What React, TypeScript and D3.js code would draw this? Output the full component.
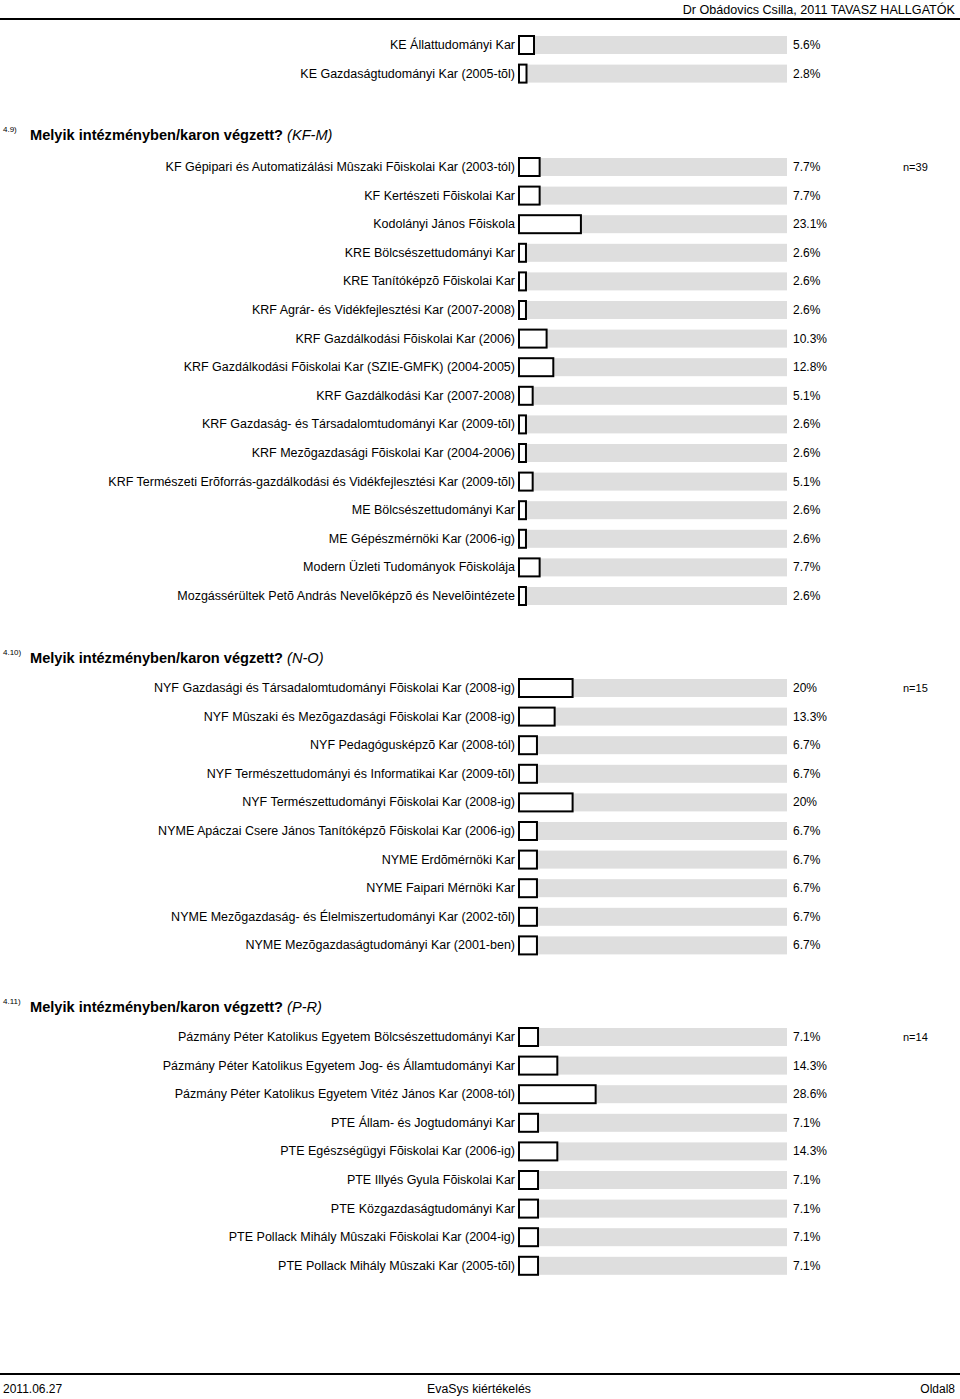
import React from "react";
import * as d3 from "d3";

const topLabels = ["KE Állattudományi Kar", "KE Gazdaságtudományi Kar (2005-tõl)"];
const topValues = [5.6, 2.8];

const s9Labels = [
  "KF Gépipari és Automatizálási Mûszaki Fõiskolai Kar (2003-tól)",
  "KF Kertészeti Fõiskolai Kar",
  "Kodolányi János Fõiskola",
  "KRE Bölcsészettudományi Kar",
  "KRE Tanítóképzõ Fõiskolai Kar",
  "KRF Agrár- és Vidékfejlesztési Kar (2007-2008)",
  "KRF Gazdálkodási Fõiskolai Kar (2006)",
  "KRF Gazdálkodási Fõiskolai Kar (SZIE-GMFK) (2004-2005)",
  "KRF Gazdálkodási Kar (2007-2008)",
  "KRF Gazdaság- és Társadalomtudományi Kar (2009-tõl)",
  "KRF Mezõgazdasági Fõiskolai Kar (2004-2006)",
  "KRF Természeti Erõforrás-gazdálkodási és Vidékfejlesztési Kar (2009-tõl)",
  "ME Bölcsészettudományi Kar",
  "ME Gépészmérnöki Kar (2006-ig)",
  "Modern Üzleti Tudományok Fõiskolája",
  "Mozgássérültek Petõ András Nevelõképzõ és Nevelõintézete",
];
const s9Values = [7.7, 7.7, 23.1, 2.6, 2.6, 2.6, 10.3, 12.8, 5.1, 2.6, 2.6, 5.1, 2.6, 2.6, 7.7, 2.6];
const s9ValueText = ["7.7%", "7.7%", "23.1%", "2.6%", "2.6%", "2.6%", "10.3%", "12.8%", "5.1%", "2.6%", "2.6%", "5.1%", "2.6%", "2.6%", "7.7%", "2.6%"];

const s10Labels = [
  "NYF Gazdasági és Társadalomtudományi Fõiskolai Kar (2008-ig)",
  "NYF Mûszaki és Mezõgazdasági Fõiskolai Kar (2008-ig)",
  "NYF Pedagógusképzõ Kar (2008-tól)",
  "NYF Természettudományi és Informatikai Kar (2009-tõl)",
  "NYF Természettudományi Fõiskolai Kar (2008-ig)",
  "NYME Apáczai Csere János Tanítóképzõ Fõiskolai Kar (2006-ig)",
  "NYME Erdõmérnöki Kar",
  "NYME Faipari Mérnöki Kar",
  "NYME Mezõgazdaság- és Élelmiszertudományi Kar (2002-tõl)",
  "NYME Mezõgazdaságtudományi Kar (2001-ben)",
];
const s10Values = [20, 13.3, 6.7, 6.7, 20, 6.7, 6.7, 6.7, 6.7, 6.7];
const s10ValueText = ["20%", "13.3%", "6.7%", "6.7%", "20%", "6.7%", "6.7%", "6.7%", "6.7%", "6.7%"];

const s11Labels = [
  "Pázmány Péter Katolikus Egyetem Bölcsészettudományi Kar",
  "Pázmány Péter Katolikus Egyetem Jog- és Államtudományi Kar",
  "Pázmány Péter Katolikus Egyetem Vitéz János Kar (2008-tól)",
  "PTE Állam- és Jogtudományi Kar",
  "PTE Egészségügyi Fõiskolai Kar (2006-ig)",
  "PTE Illyés Gyula Fõiskolai Kar",
  "PTE Közgazdaságtudományi Kar",
  "PTE Pollack Mihály Mûszaki Fõiskolai Kar (2004-ig)",
  "PTE Pollack Mihály Mûszaki Kar (2005-tõl)",
];
const s11Values = [7.1, 14.3, 28.6, 7.1, 14.3, 7.1, 7.1, 7.1, 7.1];
const s11ValueText = ["7.1%", "14.3%", "28.6%", "7.1%", "14.3%", "7.1%", "7.1%", "7.1%", "7.1%"];

const sections = [
  { num: "", title: "", sub: "", n: "", labels: topLabels, values: topValues, texts: ["5.6%", "2.8%"], titleY: 0, firstY: 45 },
  { num: "4.9)", title: "Melyik intézményben/karon végzett?", sub: "(KF-M)", n: "n=39", labels: s9Labels, values: s9Values, texts: s9ValueText, titleY: 134, firstY: 167 },
  { num: "4.10)", title: "Melyik intézményben/karon végzett?", sub: "(N-O)", n: "n=15", labels: s10Labels, values: s10Values, texts: s10ValueText, titleY: 657, firstY: 688 },
  { num: "4.11)", title: "Melyik intézményben/karon végzett?", sub: "(P-R)", n: "n=14", labels: s11Labels, values: s11Values, texts: s11ValueText, titleY: 1006, firstY: 1037 },
];

const W = 960;
const H = 1399;
const STEP = 28.6;
const FONT = "Liberation Sans, Arial, sans-serif";

export default function App() {
  const x = d3.scaleLinear().domain([0, 100]).range([519, 787]);
  return (
    <svg width={W} height={H} style={{ position: "absolute", left: 0, top: 0, background: "#fff" }} fontFamily={FONT}>
      <text x={955} y={14} fontSize={12.6} textAnchor="end" fill="#000">Dr Obádovics Csilla, 2011 TAVASZ HALLGATÓK</text>
      <line x1={0} x2={960} y1={19} y2={19} stroke="#000" strokeWidth={2} />
      {sections.map((s, si) => {
        const y = d3.scaleLinear().domain([0, 1]).range([s.firstY, s.firstY + STEP]);
        return (
          <g key={si}>
            {s.title && (
              <g>
                <text x={3} y={s.titleY - 2} fontSize={8} fill="#000">{s.num}</text>
                <text x={30} y={s.titleY + 6} fontSize={14.6} fill="#000">
                  <tspan fontWeight="bold">{s.title}</tspan>
                  <tspan fontStyle="italic"> {s.sub}</tspan>
                </text>
              </g>
            )}
            {s.n && <text x={903} y={s.firstY + 4} fontSize={11} fill="#000">{s.n}</text>}
            {s.labels.map((lab, i) => {
              const cy = y(i);
              return (
                <g key={i}>
                  <text x={515} y={cy + 4} fontSize={12.5} textAnchor="end" fill="#000">{lab}</text>
                  <rect x={x(0)} y={cy - 9} width={x(100) - x(0)} height={18} fill="#dedede" />
                  <rect x={x(0)} y={cy - 9} width={x(s.values[i]) - x(0)} height={18} fill="#fff" stroke="#000" strokeWidth={2} />
                  <text x={793} y={cy + 4} fontSize={12} fill="#000">{s.texts[i]}</text>
                </g>
              );
            })}
          </g>
        );
      })}
      <line x1={0} x2={960} y1={1374} y2={1374} stroke="#000" strokeWidth={2} />
      <text x={3} y={1393} fontSize={12} fill="#000">2011.06.27</text>
      <text x={479} y={1393} fontSize={12.3} textAnchor="middle" fill="#000">EvaSys kiértékelés</text>
      <text x={955} y={1393} fontSize={12} textAnchor="end" fill="#000">Oldal8</text>
    </svg>
  );
}
